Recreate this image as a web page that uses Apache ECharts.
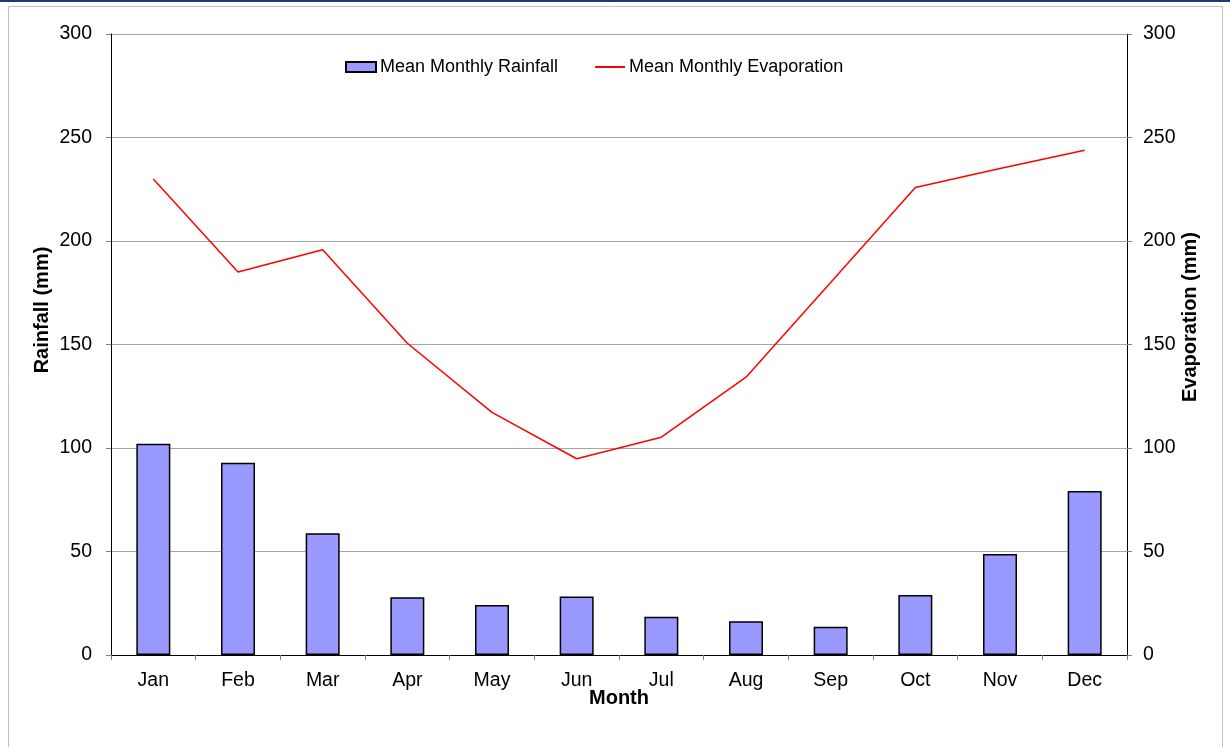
<!DOCTYPE html>
<html>
<head>
<meta charset="utf-8">
<script src="https://cdn.jsdelivr.net/npm/echarts@6/dist/echarts.min.js"></script>
<style>
  html, body { margin: 0; padding: 0; background: #fff; }
  #chart { width: 1230px; height: 747px; }
</style>
</head>
<body>
<div id="chart"></div>
<script>
// values (mm)
const months = ['Jan', 'Feb', 'Mar', 'Apr', 'May', 'Jun', 'Jul', 'Aug', 'Sep', 'Oct', 'Nov', 'Dec']
const rainfall = [102.1, 92.9, 58.8, 27.9, 24.2, 28.3, 18.5, 16.3, 13.7, 29.0, 48.8, 79.2]
const evaporation = [230, 185, 195.8, 150.6, 117.2, 94.8, 105.2, 134.2, 180, 225.8, 235, 243.8]

const font = 'Liberation Sans, Arial, sans-serif'
const textColor = '#000'

const chart = echarts.init(document.getElementById('chart'))

const valueAxis = (pos) => ({
  type: 'value',
  position: pos,
  min: 0,
  max: 300,
  interval: 50,
  axisLine: { show: true, lineStyle: { color: '#000', width: 1 } },
  axisTick: { show: true, length: 5, lineStyle: { color: '#808080' } },
  axisLabel: { color: textColor, fontSize: 19.5, fontFamily: font, margin: pos === 'left' ? 19 : 16 },
  splitLine: { show: pos === 'left', lineStyle: { color: '#a6a6a6', width: 1 } }
})

chart.setOption({
  animation: false,
  backgroundColor: '#fff',
  textStyle: { fontFamily: font },
  grid: { left: 111, right: 103, top: 34, bottom: 92 },
  legend: {
    left: 345,
    top: 58,
    padding: 0,
    itemWidth: 30,
    itemHeight: 10,
    itemGap: 36,
    textStyle: { color: textColor, fontSize: 18, fontFamily: font, padding: [0, 0, 0, -1] },
    data: [
      { name: 'Mean Monthly Rainfall', icon: 'rect' },
      { name: 'Mean Monthly Evaporation', itemStyle: { opacity: 0 } }
    ]
  },
  xAxis: {
    type: 'category',
    data: months,
    boundaryGap: true,
    axisLine: { lineStyle: { color: '#000', width: 1 } },
    axisTick: { show: true, length: 5, lineStyle: { color: '#808080' } },
    axisLabel: { color: textColor, fontSize: 19.5, fontFamily: font, margin: 16 },
    name: 'Month',
    nameLocation: 'middle',
    nameGap: 33,
    nameMoveOverlap: false,
    nameTextStyle: { color: textColor, fontSize: 20, fontWeight: 'bold', fontFamily: font }
  },
  yAxis: [valueAxis('left'), valueAxis('right')],
  series: [
    {
      name: 'Mean Monthly Rainfall',
      type: 'bar',
      yAxisIndex: 0,
      data: rainfall,
      barWidth: 34,
      itemStyle: { color: '#9999ff', borderColor: '#000', borderWidth: 1.5 }
    },
    {
      name: 'Mean Monthly Evaporation',
      type: 'line',
      yAxisIndex: 1,
      data: evaporation,
      symbol: 'none',
      lineStyle: { color: '#ff0000', width: 1.5 },
      itemStyle: { color: '#ff0000' }
    }
  ],
  graphic: [
    { type: 'rect', shape: { x: 0, y: 0, width: 1230, height: 2 }, style: { fill: '#1f3a70' } },
    { type: 'rect', shape: { x: 8.5, y: 6.5, width: 1214, height: 760 }, style: { fill: 'none', stroke: '#c0c0c0', lineWidth: 1 } },
    {
      type: 'text', x: 42, y: 310, rotation: Math.PI / 2,
      style: { text: 'Rainfall (mm)', fill: textColor, font: 'bold 20px ' + font, align: 'center', verticalAlign: 'middle' }
    },
    {
      type: 'text', x: 1190, y: 317, rotation: Math.PI / 2,
      style: { text: 'Evaporation (mm)', fill: textColor, font: 'bold 20px ' + font, align: 'center', verticalAlign: 'middle' }
    }
  ]
})
</script>
</body>
</html>
